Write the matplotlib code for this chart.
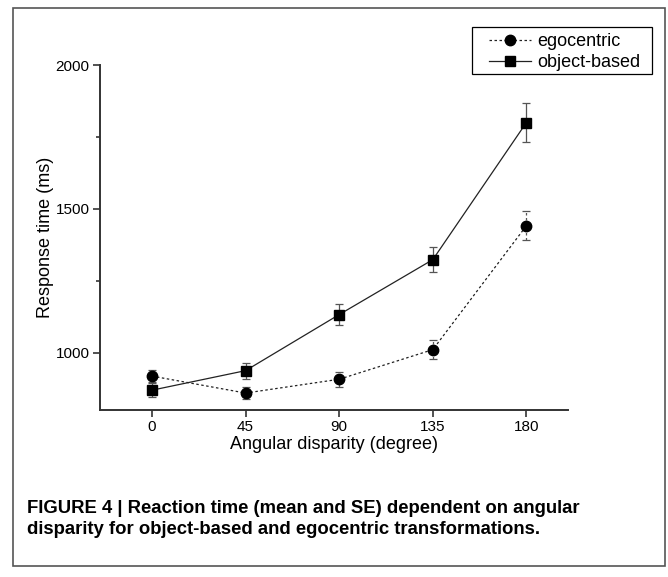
import matplotlib.pyplot as plt
from matplotlib.patches import Rectangle
from matplotlib.ticker import MultipleLocator

# angular disparity (degree)
angles = [0, 45, 90, 135, 180]

# response times (ms), mean and SE
ego_mean = [918, 859, 907, 1010, 1441]
ego_se = [20, 22, 26, 32, 50]
obj_mean = [869, 937, 1132, 1323, 1800]
obj_se = [24, 28, 38, 43, 67]

plt.rcParams['font.family'] = ['Liberation Sans', 'DejaVu Sans']

fig = plt.figure(figsize=(6.68, 5.77), dpi=100)
ax = fig.add_axes([0.1497, 0.2894, 0.7006, 0.5979])

line_col = '#222222'
bar_col = '#555555'

e1 = ax.errorbar(angles, ego_mean, yerr=ego_se, color=line_col, ls=(0, (2, 2)), lw=0.9,
                 marker='o', ms=7.5, mfc='black', mec='black', ecolor=bar_col,
                 elinewidth=0.9, capsize=3, capthick=0.9)
e1[2][0].set_linestyle((0, (2, 2)))
e2 = ax.errorbar(angles, obj_mean, yerr=obj_se, color=line_col, ls='-', lw=0.9,
                 marker='s', ms=6.5, mfc='black', mec='black', ecolor=bar_col,
                 elinewidth=0.9, capsize=3, capthick=0.9)

ax.set_xlim(-25, 200)
ax.set_ylim(800, 2000)
ax.set_xticks(angles)
ax.yaxis.set_major_locator(MultipleLocator(500))
ax.yaxis.set_minor_locator(MultipleLocator(250))

for side in ['top', 'right']:
    ax.spines[side].set_visible(False)
for side in ['left', 'bottom']:
    ax.spines[side].set_linewidth(1.4)
    ax.spines[side].set_color('#333333')
ax.tick_params(which='major', length=5, width=1.2, color='#333333', labelsize=11, pad=2.5)
ax.tick_params(which='minor', length=3, width=1.2, color='#333333')

ax.set_xlabel('Angular disparity (degree)', fontsize=13, labelpad=1)
ax.set_ylabel('Response time (ms)', fontsize=13, labelpad=1)

# legend without error bars, framed by a plain box
leg = ax.legend([e1[0], e2[0]], ['egocentric', 'object-based'],
                loc='upper left', bbox_to_anchor=(489 / 668, 1 - 33 / 577),
                bbox_transform=fig.transFigure, fontsize=13, frameon=False,
                borderpad=0, handlelength=2.35, handletextpad=0.3, labelspacing=0.22,
                borderaxespad=0)
fig.patches.append(Rectangle((472 / 668, 1 - 74 / 577), 180 / 668, 47 / 577,
                             transform=fig.transFigure, fill=False, ec='black', lw=0.9))

fig.text(27 / 668, 1 - 519 / 577,
         'FIGURE 4 | Reaction time (mean and SE) dependent on angular\n'
         'disparity for object-based and egocentric transformations.',
         fontsize=13.3, fontweight='bold', va='center', ha='left', linespacing=1.35)

fig.patches.append(Rectangle((13 / 668, 1 - 566 / 577), 652 / 668, 558 / 577,
                             transform=fig.transFigure, fill=False, ec='#555555', lw=1.2))

fig.savefig('out.png', dpi=100)
